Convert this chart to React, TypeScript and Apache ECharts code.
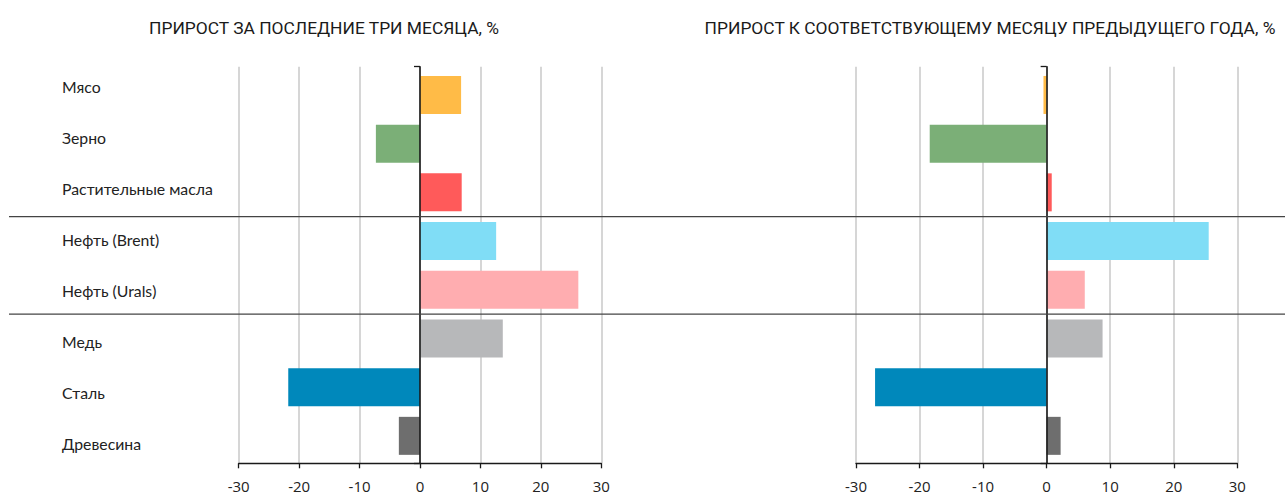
import React, { useEffect, useRef } from "react";
import * as echarts from "echarts";

const categories = [
  "Мясо",
  "Зерно",
  "Растительные масла",
  "Нефть (Brent)",
  "Нефть (Urals)",
  "Медь",
  "Сталь",
  "Древесина",
];
const threeMonthGrowth = [6.8, -7.3, 6.9, 12.6, 26.2, 13.7, -21.8, -3.5];
const yearOverYearGrowth = [-0.5, -18.4, 0.8, 25.5, 6.0, 8.8, -27.0, 2.2];
const barColors = [
  "#FFBB47",
  "#7BAF77",
  "#FF5A5A",
  "#80DDF6",
  "#FFADB0",
  "#B7B8BA",
  "#0088BB",
  "#6E6E6E",
];
const titles = [
  "ПРИРОСТ ЗА ПОСЛЕДНИЕ ТРИ МЕСЯЦА, %",
  "ПРИРОСТ К СООТВЕТСТВУЮЩЕМУ МЕСЯЦУ ПРЕДЫДУЩЕГО ГОДА, %",
];
const axisMin = -30;
const axisMax = 30;
const axisStep = 10;
const groupBreaks = [3, 5];

export default function App() {
  const ref = useRef<HTMLDivElement>(null);
  useEffect(() => {
    document.body.style.margin = "0";
    if (!ref.current) return;
    const chart = echarts.init(ref.current, null, { renderer: "svg" });

    const frameTop = 66.7;
    const frameH = 396.6;
    const barTop = 70.6;
    const barH = 389.6;
    const panels = [
      { left: 238.7, width: 362.6, data: threeMonthGrowth },
      { left: 856, width: 381.3, data: yearOverYearGrowth },
    ];
    const font = "Open Sans, sans-serif";

    const grid: any[] = [];
    const xAxis: any[] = [];
    const yAxis: any[] = [];
    const series: any[] = [];

    panels.forEach((p) => {
      const fi = grid.length;
      grid.push({ left: p.left, top: frameTop, width: p.width, height: frameH });
      xAxis.push({
        gridIndex: fi,
        type: "value",
        min: axisMin,
        max: axisMax,
        interval: axisStep,
        z: 0,
        axisLine: { show: true, onZero: false, lineStyle: { color: "#1a1a1a", width: 1.3 } },
        axisTick: { show: true, length: 5, lineStyle: { color: "#1a1a1a", width: 1.3 } },
        axisLabel: { margin: 15, fontSize: 15, color: "#222", fontFamily: font },
        splitLine: { show: true, lineStyle: { color: "#c8c8c8", width: 1.5 } },
      });
      yAxis.push({
        gridIndex: fi,
        type: "value",
        min: 0,
        max: 1,
        interval: 1,
        z: 10,
        axisLine: { show: true, onZero: true, lineStyle: { color: "#1a1a1a", width: 1.6 } },
        axisTick: { show: true, length: 6, lineStyle: { color: "#1a1a1a", width: 1.3 } },
        axisLabel: { show: false },
        splitLine: { show: false },
      });

      const bi = grid.length;
      grid.push({ left: p.left, top: barTop, width: p.width, height: barH });
      xAxis.push({ gridIndex: bi, type: "value", min: axisMin, max: axisMax, show: false });
      yAxis.push({ gridIndex: bi, type: "category", data: categories, inverse: true, show: false });
      series.push({
        type: "bar",
        xAxisIndex: bi,
        yAxisIndex: bi,
        barWidth: 38,
        z: 2,
        data: p.data.map((v, k) => ({ value: v, itemStyle: { color: barColors[k] } })),
      });
    });

    const li = grid.length;
    grid.push({ left: 50, top: 61.2, width: 4, height: 408 });
    xAxis.push({ gridIndex: li, type: "value", show: false });
    yAxis.push({
      gridIndex: li,
      type: "category",
      data: categories,
      inverse: true,
      position: "right",
      axisLine: { show: false },
      axisTick: { show: false },
      splitLine: { show: false },
      axisLabel: { margin: 8, fontSize: 15.8, color: "#222", fontFamily: "Lato, sans-serif" },
    });

    const band = barH / categories.length;
    const graphic = groupBreaks.map((b) => ({
      type: "line",
      z: 20,
      shape: { x1: 9, y1: barTop + band * b, x2: 1285, y2: barTop + band * b },
      style: { stroke: "#444", lineWidth: 1.3 },
    }));

    const titleStyle = {
      fontSize: 17.4,
      fontWeight: "normal",
      color: "#1a1a1a",
      fontFamily: "Roboto, sans-serif",
    };

    chart.setOption({
      animation: false,
      backgroundColor: "#fff",
      title: [
        { text: titles[0], left: 319, top: 14, textAlign: "center", textStyle: titleStyle },
        { text: titles[1], left: 985, top: 14, textAlign: "center", textStyle: titleStyle },
      ],
      grid,
      xAxis,
      yAxis,
      series,
      graphic,
    });
    return () => chart.dispose();
  }, []);
  return <div ref={ref} style={{ width: 1285, height: 496 }} />;
}
